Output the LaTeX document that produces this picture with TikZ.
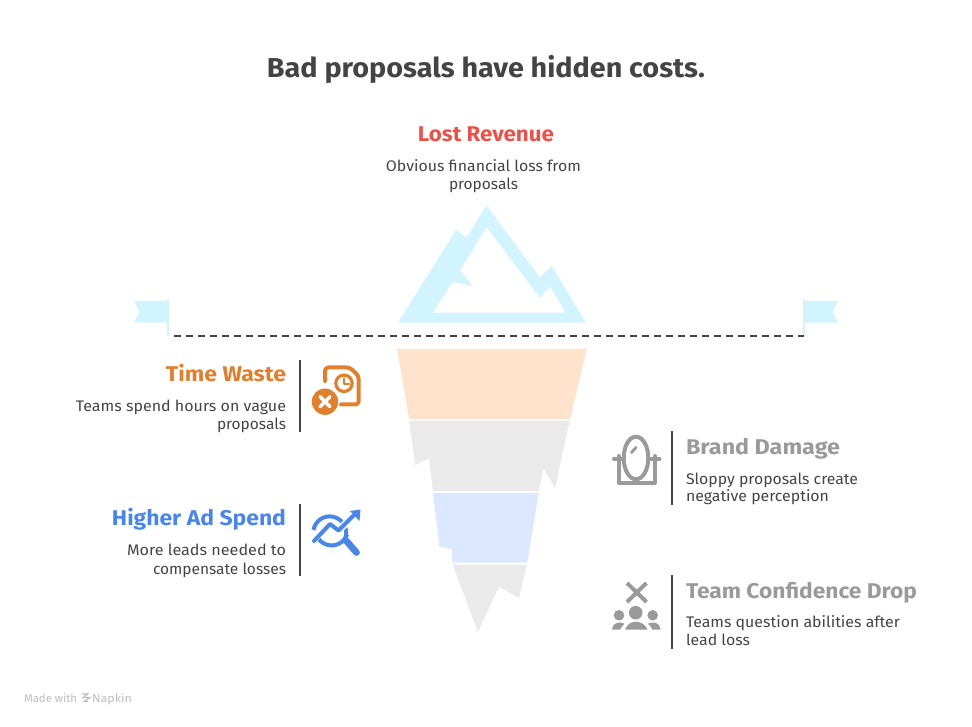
\documentclass[tikz,border=0pt]{standalone}
\usepackage{fontspec}
\usepackage{graphicx}
\setmainfont{Fira Sans}
\definecolor{ice}{HTML}{D2F4FF}
\definecolor{peach}{HTML}{FFE3CC}
\definecolor{pale}{HTML}{EAEAEA}
\definecolor{paleblue}{HTML}{DCE8FF}
\definecolor{ink}{HTML}{444444}
\definecolor{redt}{HTML}{E8524A}
\definecolor{oranget}{HTML}{E07F2E}
\definecolor{bluet}{HTML}{4A86E8}
\definecolor{greyt}{HTML}{9A9A9A}
\definecolor{maker}{HTML}{BDBDBD}
\newdimen\fitwd
\newcommand{\fit}[2]{\fitwd=#1pt \fitwd=0.75\fitwd \resizebox{\fitwd}{\height}{#2}}
\tikzset{
  x=0.75pt,y=-0.75pt,
  txt/.style={inner sep=0pt,outer sep=0pt},
  head/.style={txt,font=\fontsize{16}{16}\selectfont\bfseries},
  body/.style={txt,font=\fontsize{11.5}{12}\selectfont,text=ink},
  rulebar/.style={draw=ink,line width=1.5pt},
  ic/.style={line width=3pt,line cap=round,line join=round,fill=none},
}
\begin{document}
\begin{tikzpicture}
\useasboundingbox (0,0) rectangle (972,727);
% title
\node[txt,anchor=base,text=ink,font=\fontsize{20.5}{21}\selectfont\bfseries] (title) at (486,77.5) {\fit{438}{Bad proposals have hidden costs.}};
% iceberg top
\fill[ice,even odd rule] (398,322.7)--(456,230)--(466.7,237.3)--(486.3,205.7)--(540,277.3)--(551.7,266)--(586,322.7)--cycle
 (486.7,227.3)--(540,297.7)--(550,286.7)--(565.7,312.7)--(432.7,312.7)--(452.7,282)--(472.3,286)--(460,270)--cycle;
% flags
\fill[ice] (134,301)--(168,301)--(168,322.7)--(134,322.7)--(139.3,311.7)--cycle;
\fill[ice] (804,301)--(838,301)--(832.7,311.7)--(838,322.7)--(804,322.7)--cycle;
\coordinate (wl) at (174,335.7);
\coordinate (wr) at (804,335.7);
\draw[ice,line width=1.4pt] (168,299)--(168,336);
\draw[ice,line width=1.4pt] (804,299)--(804,336);
\draw[ink,line width=1.5pt,dash pattern=on 5.4pt off 3.6pt] (wl)--(wr);
% iceberg under water
\fill[peach] (397,349)--(586.7,349)--(570.3,419)--(409,419)--cycle;
\fill[pale] (409,420.7)--(569.7,420.7)--(555,488.3)--(543.3,468.3)--(539,491)--(433,491)--(429,458.7)--(415.3,465)--cycle;
\fill[paleblue] (433,493)--(538.7,493)--(527.3,562.7)--(452.3,562.7)--(452,549.3)--(439.3,546.3)--cycle;
\fill[pale] (452.7,564.7)--(526.7,564.7)--(519,598)--(499,586.7)--(478,632.3)--cycle;
% Lost revenue
\node[head,anchor=base,text=redt] (lost) at (486,142) {\fit{136}{Lost Revenue}};
\node[body,anchor=base] (lost1) at (483.5,172) {\fit{195}{Obvious financial loss from}};
\node[body,anchor=base] (lost2) at (483.5,190) {\fit{69}{proposals}};
% Time waste
\node[head,anchor=base east,text=oranget] (time) at (286,382) {\fit{120}{Time Waste}};
\node[body,anchor=base east] (time1) at (286,412) {\fit{210}{Teams spend hours on vague}};
\node[body,anchor=base east] (time2) at (286,430) {\fit{69}{proposals}};
\draw[rulebar] (300,360)--(300,432);
% Higher ad spend
\node[head,anchor=base east,text=bluet] (ad) at (286,526) {\fit{174}{Higher Ad Spend}};
\node[body,anchor=base east] (ad1) at (286,556) {\fit{159}{More leads needed to}};
\node[body,anchor=base east] (ad2) at (286,574) {\fit{133}{compensate losses}};
\draw[rulebar] (300,504)--(300,576);
% Brand damage
\node[head,anchor=base west,text=greyt] (brand) at (686,454.5) {\fit{154}{Brand Damage}};
\node[body,anchor=base west] (brand1) at (686,484) {\fit{172}{Sloppy proposals create}};
\node[body,anchor=base west] (brand2) at (686,502) {\fit{143}{negative perception}};
\draw[rulebar] (672,431)--(672,505);
% Team confidence
\node[head,anchor=base west,text=greyt] (team) at (686,598) {\fit{231}{Team Confidence Drop}};
\node[body,anchor=base west] (team1) at (686,627) {\fit{214}{Teams question abilities after}};
\node[body,anchor=base west] (team2) at (686,645) {\fit{64}{lead loss}};
\draw[rulebar] (672,575)--(672,649);
% icon: time waste
\begin{scope}[oranget]
\draw[ic,rounded corners=2.5pt] (325,381)--(325,367.5)--(350,367.5)--(358.7,376)--(358.7,404.5)--(341,404.5);
\draw[ic,line width=2.4pt] (344,383.3) circle (8.2);
\draw[line width=1.6pt,line cap=round,line join=round] (344,378.5)--(344,384)--(349,384);
\fill (325,401.7) circle (13.2);
\draw[white,line width=2.6pt,line cap=round] (320,396.7)--(330,406.7) (330,396.7)--(320,406.7);
\end{scope}
% icon: ad spend
\begin{scope}[bluet]
\draw[ic,line cap=butt] (313.5,530) arc[start angle=170,end angle=-35,x radius=16.5,y radius=-16.5];
\end{scope}
\draw[white,line width=5.5pt] (313,541.5)--(330,524)--(338.5,530.5)--(352,517);
\begin{scope}[bluet]
\draw[ic,line cap=round] (314,541)--(330,524)--(338.5,530.5)--(353,516);
\fill (350,511)--(360.5,509.5)--(359.5,521)--cycle;
\draw[ic,line cap=butt] (319,539.5) arc[start angle=140,end angle=20,x radius=16.5,y radius=16.5];
\draw[line width=2pt] (344,537)--(347,541);
\draw[line width=5pt,line cap=round] (346.5,541)--(356.5,552.5);
\end{scope}
% icon: mirror
\begin{scope}[greyt]
\draw[ic] (636,458) ellipse[x radius=12.3,y radius=21.3];
\draw[line width=2.2pt,line cap=round] (631.5,452.5)--(636,447.5);
\draw[ic] (618.5,456)--(618.5,483)--(655,483)--(655,456);
\draw[ic] (614,458.7)--(622,458.7);
\draw[ic] (651,458.7)--(659.5,458.7);
\end{scope}
% icon: team
\begin{scope}[greyt]
\draw[ic,line width=3pt,line cap=butt] (627,583)--(646.5,602) (646.5,583)--(627,602);
\fill (635.7,612.7) circle (6.8);
\fill (619,615.3) circle (5.3);
\fill (652.7,615.3) circle (5.3);
\fill (625,629.5) .. controls (627,624.5) and (631,621.7) .. (635.7,621.7) .. controls (640.5,621.7) and (645.5,624.5) .. (647.5,629.5) --cycle;
\fill (612,629.5) .. controls (612.5,624.5) and (616,622.5) .. (619.5,622.5) .. controls (621.5,622.5) and (623,623) .. (624.5,623.8) .. controls (622.5,625.5) and (621,627.5) .. (620.3,629.5) --cycle;
\fill (660.5,629.5) .. controls (660,624.5) and (656.5,622.5) .. (653,622.5) .. controls (651,622.5) and (649.5,623) .. (648,623.8) .. controls (650,625.5) and (651.5,627.5) .. (652.2,629.5) --cycle;
\end{scope}
% footer
\node[txt,anchor=base west,text=maker,font=\fontsize{8.5}{9}\selectfont] (made) at (24,702) {\fit{53}{Made with}};
\node[txt,anchor=base west,text=maker,font=\fontsize{8.5}{9}\selectfont] (napkin) at (92,702) {\fit{40}{Napkin}};
\draw[maker,line width=0.8pt] (82,694)--(88,694)--(83,697.5)--(90,697.5)--(84,701.5)--(88,701.5);
\end{tikzpicture}
\end{document}
